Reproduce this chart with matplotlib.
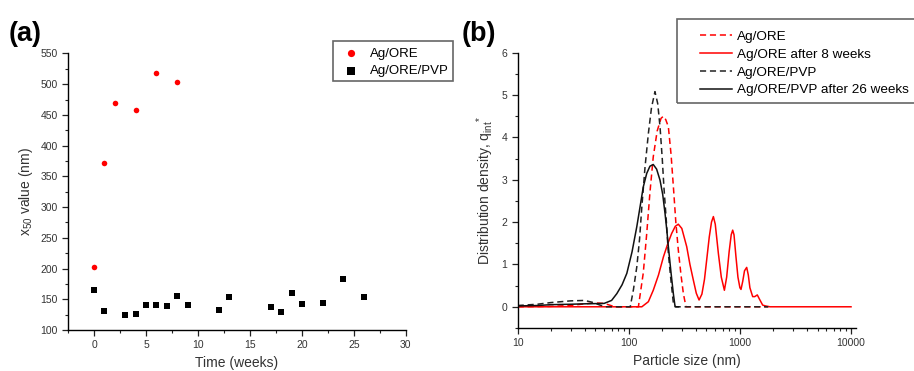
import numpy as np
import matplotlib
matplotlib.use("Agg")
import matplotlib.pyplot as plt
from matplotlib.ticker import MultipleLocator
from matplotlib.patches import Rectangle

plt.rcParams['font.family'] = ['Liberation Sans', 'DejaVu Sans']
plt.rcParams['mathtext.default'] = 'regular'

# (a) x50 over time
t_ore = [0, 1, 2, 4, 6, 8]
x50_ore = [202, 372, 470, 458, 518, 503]
t_pvp = [0, 1, 3, 4, 5, 6, 7, 8, 9, 12, 13, 17, 18, 19, 20, 22, 24, 26]
x50_pvp = [165, 131, 125, 126, 140, 141, 139, 155, 141, 132, 153, 138, 130, 161, 142, 144, 183, 154]

# (b) distributions (size in nm, density)
ore_size = [10, 20, 30, 40, 50, 60, 75, 100, 122, 135, 145, 155, 166, 180, 195, 205, 215, 227, 240, 252,
            265, 279, 295, 310, 327, 400, 1000, 1800]
ore_q = [0.0, 0.01, 0.03, 0.07, 0.09, 0.08, 0.0, 0.0, 0.0, 0.8, 1.73, 2.7, 3.54, 4.15, 4.45, 4.5, 4.42,
         4.25, 3.6, 2.83, 2.0, 1.34, 0.75, 0.31, 0.0, 0.0, 0.0, 0.0]

ore8_size = [10, 100, 131, 150, 166, 185, 205, 225, 243, 262, 279, 300, 332, 355, 381, 405, 429, 455, 480,
             502, 530, 555, 577, 600, 620, 640, 680, 725, 760, 800, 835, 861, 885, 920, 960, 1000, 1023,
             1060, 1100, 1151, 1190, 1230, 1303, 1360, 1434, 1500, 1603, 1700, 1866, 10000]
ore8_q = [0.0, 0.0, 0.0, 0.12, 0.39, 0.75, 1.18, 1.5, 1.73, 1.9, 1.95, 1.85, 1.42, 1.0, 0.63, 0.32, 0.16,
          0.3, 0.65, 1.1, 1.65, 2.0, 2.13, 1.95, 1.6, 1.26, 0.7, 0.39, 0.7, 1.3, 1.7, 1.81, 1.7, 1.2, 0.7,
          0.45, 0.41, 0.6, 0.85, 0.93, 0.75, 0.45, 0.24, 0.24, 0.28, 0.18, 0.04, 0.02, 0.0, 0.0]

pvp_size = [10, 15, 20, 30, 40, 48, 55, 62, 80, 103, 110, 118, 125, 131, 140, 150, 160, 172, 182, 191,
            200, 207, 218, 227, 240, 252, 265, 400, 1000, 1800]
pvp_q = [0.03, 0.06, 0.1, 0.14, 0.15, 0.1, 0.04, 0.0, 0.0, 0.0, 0.4, 0.94, 1.6, 2.36, 3.3, 4.09, 4.7, 5.08,
         4.8, 4.25, 3.5, 2.83, 2.0, 1.26, 0.6, 0.08, 0.0, 0.0, 0.0, 0.0]

pvp26_size = [10, 15, 20, 30, 40, 50, 60, 70, 78, 87, 96, 107, 118, 127, 135, 145, 155, 166, 178, 191, 202,
              212, 220, 227, 240, 252, 261, 280]
pvp26_q = [0.02, 0.03, 0.05, 0.06, 0.07, 0.075, 0.08, 0.15, 0.31, 0.52, 0.79, 1.3, 1.89, 2.4, 2.83, 3.15,
           3.32, 3.36, 3.25, 2.99, 2.65, 2.2, 1.8, 1.42, 0.8, 0.3, 0.0, 0.0]

W, H = 914, 371
fig = plt.figure(figsize=(W / 100, H / 100), dpi=100)
ax1 = fig.add_axes([0.0745, 0.1105, 0.3695, 0.7455])
ax2 = fig.add_axes([0.5664, 0.116, 0.3702, 0.742])

for ax in (ax1, ax2):
	for s in ('top', 'right'):
		ax.spines[s].set_visible(False)
	ax.spines['left'].set_linewidth(1.0)
	ax.spines['bottom'].set_linewidth(1.0)
	ax.tick_params(which='both', direction='out', labelsize=7.5, colors='#222222', labelcolor='#333333')
	ax.tick_params(which='major', length=4, width=0.9)
	ax.tick_params(which='minor', length=2.5, width=0.8)

ax1.scatter(t_ore, x50_ore, s=16, c='#ff0000', marker='o', linewidths=0, label='Ag/ORE', zorder=3)
ax1.scatter(t_pvp, x50_pvp, s=16, c='black', marker='s', linewidths=0, label='Ag/ORE/PVP', zorder=3)
ax1.set_xlim(-2.5, 30)
ax1.set_ylim(100, 550)
ax1.xaxis.set_major_locator(MultipleLocator(5))
ax1.xaxis.set_minor_locator(MultipleLocator(2.5))
ax1.yaxis.set_major_locator(MultipleLocator(50))
ax1.yaxis.set_minor_locator(MultipleLocator(25))
ax1.set_xlabel('Time (weeks)', fontsize=10, color='#333333')
ax1.set_ylabel('x$_{50}$ value (nm)', fontsize=10, color='#333333')
ax1.legend(loc='upper left', bbox_to_anchor=(337.5 / W, 1 - 47.5 / H), bbox_transform=fig.transFigure,
           fontsize=9.5, frameon=False, handlelength=2.0, handletextpad=0.45, borderpad=0, borderaxespad=0,
           labelspacing=0.4, scatterpoints=1, markerscale=1.3)
fig.patches.append(Rectangle((333 / W, 1 - 81 / H), 120 / W, 40 / H, transform=fig.transFigure,
                             fill=False, ec='#666666', lw=1.2))

ax2.plot(ore_size, ore_q, color='#ff0000', ls=(0, (4, 2.5)), lw=1.1, label='Ag/ORE')
ax2.plot(ore8_size, ore8_q, color='#ff0000', ls='-', lw=1.1, label='Ag/ORE after 8 weeks')
ax2.plot(pvp_size, pvp_q, color='#222222', ls=(0, (4, 2.5)), lw=1.1, label='Ag/ORE/PVP')
ax2.plot(pvp26_size, pvp26_q, color='#111111', ls='-', lw=1.1, label='Ag/ORE/PVP after 26 weeks')
ax2.set_xscale('log')
ax2.set_xlim(10, 11100)
ax2.set_ylim(-0.5, 6)
ax2.set_xticks([10, 100, 1000, 10000])
ax2.set_xticklabels(['10', '100', '1000', '10000'])
ax2.yaxis.set_major_locator(MultipleLocator(1))
ax2.yaxis.set_minor_locator(MultipleLocator(0.5))
ax2.set_xlabel('Particle size (nm)', fontsize=10, color='#333333')
ax2.set_ylabel('Distribution density, q$_{int}$$^{*}$', fontsize=10, color='#333333')
ax2.legend(loc='upper left', bbox_to_anchor=(700 / W, 1 - 30.5 / H), bbox_transform=fig.transFigure,
           fontsize=9.7, frameon=False, handlelength=2.35, handletextpad=0.36, borderpad=0,
           labelspacing=0.4, borderaxespad=0)
fig.patches.append(Rectangle((677 / W, 1 - 103 / H), 250 / W, 84 / H, transform=fig.transFigure,
                             fill=False, ec='#666666', lw=1.2))

fig.text(9 / W, 1 - 41 / H, '(a)', fontsize=19.5, fontweight='bold')
fig.text(462 / W, 1 - 41 / H, '(b)', fontsize=19.5, fontweight='bold')

fig.savefig('out.png', dpi=100)
